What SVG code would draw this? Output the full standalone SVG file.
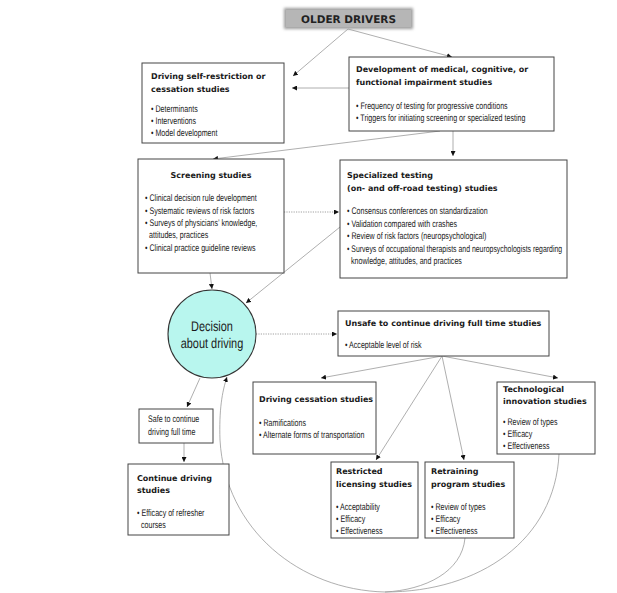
<svg xmlns="http://www.w3.org/2000/svg" width="617" height="593" viewBox="0 0 617 593">
<defs>
<marker id="ah" viewBox="0 0 6 6" refX="6" refY="3" markerWidth="5" markerHeight="5" markerUnits="userSpaceOnUse" orient="auto"><path d="M0,0 L6,3 L0,6 z" fill="#111"/></marker>
<filter id="soft" x="-20%" y="-60%" width="140%" height="220%"><feGaussianBlur stdDeviation="1.4"/></filter>
<style>
text{text-rendering:geometricPrecision}
.box{fill:#fff;stroke:#444;stroke-width:1}
.h{font-family:"DejaVu Sans",Verdana,sans-serif;font-weight:bold;font-size:8px;fill:#1a1a1a}
.b{font-family:"Liberation Sans",Arial,sans-serif;font-size:9.6px;fill:#1a1a1a;transform:scaleX(0.74);transform-box:fill-box;transform-origin:left center}
.bn{transform:scaleX(0.72)}
.c{font-family:"Liberation Sans",Arial,sans-serif;font-size:14px;fill:#1a1a1a;text-anchor:middle;transform:scaleX(0.78);transform-box:fill-box;transform-origin:center center}
.ln{fill:none;stroke:#9a9a9a;stroke-width:0.8}
.dt{fill:none;stroke:#888;stroke-width:0.8;stroke-dasharray:1.2 1.2}
</style>
</defs>
<rect width="617" height="593" fill="#fff"/>

<g id="connectors">
<path class="ln" d="M348,29 L293,76" marker-end="url(#ah)"/>
<path class="ln" d="M348,29 L452,57" marker-end="url(#ah)"/>
<path class="ln" d="M349,88 L292,88" marker-end="url(#ah)"/>
<path class="ln" d="M440,131 L213,159" marker-end="url(#ah)"/>
<path class="ln" d="M453,131 L453,156" marker-end="url(#ah)"/>
<path class="dt" d="M284,212 L339,212" marker-end="url(#ah)"/>
<path class="ln" d="M340,227 L246,303" marker-end="url(#ah)"/>
<path class="ln" d="M210,273 L212,289" marker-end="url(#ah)"/>
<path class="dt" d="M256,334 L337,334" marker-end="url(#ah)"/>
<path class="ln" d="M200,378 L187,407" marker-end="url(#ah)"/>
<path class="ln" d="M184,443 L184,462" marker-end="url(#ah)"/>
<path class="ln" d="M442,356 L321,378" marker-end="url(#ah)"/>
<path class="ln" d="M442,356 L376,460" marker-end="url(#ah)"/>
<path class="ln" d="M442,356 L464,460" marker-end="url(#ah)"/>
<path class="ln" d="M442,356 L558,378" marker-end="url(#ah)"/>
<path class="ln" d="M559,454 C555,540 480,592 385,592 C300,590 225,530 220,440 C219,410 222,392 227,377" marker-end="url(#ah)"/>
<path class="ln" d="M465,538 C462,572 425,590 385,592"/>
</g>

<g id="older-drivers">
<rect x="284" y="8" width="129" height="21" fill="#9c9c9c" filter="url(#soft)"/>
<rect x="286" y="10" width="125" height="17" fill="#b6b6b6"/>
<text x="348.5" y="22.5" text-anchor="middle" style="font-family:'DejaVu Sans',sans-serif;font-weight:bold;font-size:10.5px;fill:#222">OLDER DRIVERS</text>
</g>

<g id="self-restriction">
<rect class="box" x="142" y="63" width="142" height="80"/>
<text class="h" x="151" y="79">Driving self-restriction or</text>
<text class="h" x="151" y="92">cessation studies</text>
<text class="b" x="151" y="112">• Determinants</text>
<text class="b" x="151" y="124">• Interventions</text>
<text class="b" x="151" y="136">• Model development</text>
</g>

<g id="development">
<rect class="box" x="349" y="57" width="205" height="74"/>
<text class="h" x="356" y="72">Development of medical, cognitive, or</text>
<text class="h" x="356" y="85">functional impairment studies</text>
<text class="b" x="356" y="109">• Frequency of testing for progressive conditions</text>
<text class="b" x="356" y="121">• Triggers for initiating screening or specialized testing</text>
</g>

<g id="screening">
<rect class="box" x="138" y="159" width="146" height="114"/>
<text class="h" x="211" y="178" text-anchor="middle">Screening studies</text>
<text class="b" x="145" y="201">• Clinical decision rule development</text>
<text class="b" x="145" y="213.5">• Systematic reviews of risk factors</text>
<text class="b" x="145" y="226">• Surveys of physicians’ knowledge,</text>
<text class="b" x="149" y="238">attitudes, practices</text>
<text class="b" x="145" y="250.5">• Clinical practice guideline reviews</text>
</g>

<g id="specialized">
<rect class="box" x="340" y="160" width="227" height="118"/>
<text class="h" x="347" y="178">Specialized testing</text>
<text class="h" x="347" y="191"> (on- and off-road testing) studies</text>
<text class="b" x="347" y="214">• Consensus conferences on standardization</text>
<text class="b" x="347" y="226.5">• Validation compared with crashes</text>
<text class="b" x="347" y="239">• Review of risk factors (neuropsychological)</text>
<text class="b bn" x="347" y="251.5">• Surveys of occupational therapists and neuropsychologists regarding</text>
<text class="b" x="351" y="264">knowledge, attitudes, and practices</text>
</g>

<g id="decision">
<circle cx="212" cy="334" r="44" fill="#b8f6ee" stroke="#333" stroke-width="1.1"/>
<text class="c" x="212" y="331">Decision</text>
<text class="c" x="212" y="348">about driving</text>
</g>

<g id="unsafe">
<rect class="box" x="338" y="311" width="211" height="45"/>
<text class="h" x="345" y="326">Unsafe to continue driving full time studies</text>
<text class="b" x="345" y="348">• Acceptable level of risk</text>
</g>

<g id="safe">
<rect class="box" x="139" y="409" width="74" height="34"/>
<text class="b" x="148" y="422">Safe to continue</text>
<text class="b" x="148" y="435">driving full time</text>
</g>

<g id="continue">
<rect class="box" x="128" y="464" width="101" height="71"/>
<text class="h" x="137" y="481">Continue driving</text>
<text class="h" x="137" y="493">studies</text>
<text class="b" x="137" y="516">• Efficacy of refresher</text>
<text class="b" x="141" y="528">courses</text>
</g>

<g id="cessation">
<rect class="box" x="253" y="382" width="123" height="72"/>
<text class="h" x="259" y="402">Driving cessation studies</text>
<text class="b" x="259" y="426">• Ramifications</text>
<text class="b" x="259" y="438">• Alternate forms of transportation</text>
</g>

<g id="technological">
<rect class="box" x="497" y="382" width="98" height="72"/>
<text class="h" x="503" y="392">Technological</text>
<text class="h" x="503" y="404">innovation studies</text>
<text class="b" x="503" y="425">• Review of types</text>
<text class="b" x="503" y="437">• Efficacy</text>
<text class="b" x="503" y="449">• Effectiveness</text>
</g>

<g id="restricted">
<rect class="box" x="331" y="462" width="87" height="76"/>
<text class="h" x="336" y="474">Restricted</text>
<text class="h" x="336" y="487">licensing studies</text>
<text class="b" x="336" y="510">• Acceptability</text>
<text class="b" x="336" y="522">• Efficacy</text>
<text class="b" x="336" y="534">• Effectiveness</text>
</g>

<g id="retraining">
<rect class="box" x="425" y="462" width="89" height="76"/>
<text class="h" x="431" y="474">Retraining</text>
<text class="h" x="431" y="487">program studies</text>
<text class="b" x="431" y="510">• Review of types</text>
<text class="b" x="431" y="522">• Efficacy</text>
<text class="b" x="431" y="534">• Effectiveness</text>
</g>
</svg>
